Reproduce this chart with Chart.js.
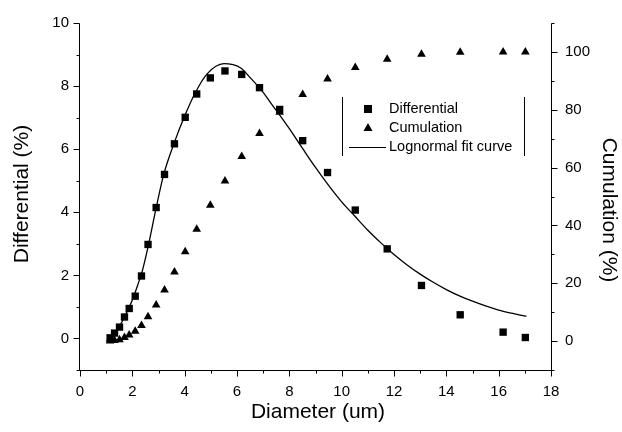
<!DOCTYPE html>
<html><head><meta charset="utf-8">
<script src="https://cdn.jsdelivr.net/npm/chart.js@4.4.1/dist/chart.umd.min.js"></script>
<style>html,body{margin:0;padding:0;background:#fff}#wrap{width:622px;height:432px;position:relative}</style>
</head><body><div id="wrap"><canvas id="c" width="622" height="432"></canvas></div>
<script>
const diameter = [1.15,1.32,1.51,1.70,1.88,2.11,2.35,2.60,2.91,3.23,3.61,4.02,4.46,4.98,5.54,6.18,6.86,7.63,8.51,9.46,10.52,11.74,13.05,14.53,16.17,17.02];
const differential = [0.02,0.17,0.36,0.68,0.95,1.34,1.98,2.98,4.15,5.20,6.17,7.01,7.75,8.26,8.48,8.37,7.95,7.26,6.27,5.26,4.07,2.84,1.68,0.75,0.20,0.03];
const cumulation = [0.0,0.2,0.5,1.2,2.1,3.4,5.4,8.4,12.5,17.7,23.9,30.9,38.7,47.0,55.4,63.8,71.8,79.1,85.3,90.6,94.6,97.5,99.2,99.9,100.0,100.0];
const fitDiameter = [1.0,1.2,1.4,1.6,1.8,2.0,2.2,2.4,2.6,2.9,3.2,3.6,4.0,4.4,4.85,5.5,6.13,6.5,7.0,7.3,7.66,8.0,8.5,9.0,9.5,10.0,10.5,11.0,11.5,12.0,12.5,13.0,13.5,14.0,14.5,15.0,15.5,16.0,16.5,17.06];
const fitDifferential = [-0.1,0.05,0.25,0.52,0.85,1.22,1.68,2.2,2.9,4.1,5.2,6.2,7.05,7.78,8.38,8.71,8.58,8.27,7.8,7.45,7.05,6.65,6.03,5.42,4.85,4.33,3.88,3.43,3.03,2.66,2.33,2.04,1.78,1.55,1.35,1.18,1.03,0.90,0.80,0.70];
const xTickLabels = [0,2,4,6,8,10,12,14,16,18];
const yLeftTickLabels = [0,2,4,6,8,10];
const yRightTickLabels = [0,20,40,60,80,100];
const legendLabels = ['Differential','Cumulation','Lognormal fit curve'];
const titles = {x:'Diameter (um)', y:'Differential (%)', y1:'Cumulation (%)'};

const FONT = '"Liberation Sans", Arial, sans-serif';

const drawPlugin = {
  id: 'drawPlugin',
  afterDraw(chart) {
    const ctx = chart.ctx;
    const {left, right, top, bottom} = chart.chartArea;
    const xs = chart.scales.x, ys = chart.scales.y, ys1 = chart.scales.y1;
    ctx.save();
    ctx.strokeStyle = '#000'; ctx.lineWidth = 1;
    const L = Math.round(left) - 0.5, R = Math.round(right) + 0.5, B = Math.round(bottom) + 0.5, T = Math.round(top) + 0.5;
    ctx.beginPath();
    ctx.moveTo(L, T); ctx.lineTo(L, B);
    ctx.moveTo(L, B); ctx.lineTo(R, B);
    ctx.moveTo(R, T); ctx.lineTo(R, B);
    xs.ticks.forEach(t => {
      const px = Math.round(xs.getPixelForValue(t.value)) + 0.5;
      const len = xTickLabels.includes(t.value) ? 6 : 3;
      ctx.moveTo(px, B); ctx.lineTo(px, B + len);
    });
    ys.ticks.forEach(t => {
      const py = Math.round(ys.getPixelForValue(t.value)) + 0.5;
      const len = yLeftTickLabels.includes(t.value) ? 6 : 3;
      ctx.moveTo(L, py); ctx.lineTo(L - len, py);
    });
    ys1.ticks.forEach(t => {
      const py = Math.round(ys1.getPixelForValue(t.value)) + 0.5;
      const len = yRightTickLabels.includes(t.value) ? 6 : 3;
      ctx.moveTo(R, py); ctx.lineTo(R + len, py);
    });
    ctx.stroke();

    // axis titles
    ctx.fillStyle = '#000';
    ctx.font = '21px ' + FONT;
    ctx.textAlign = 'center'; ctx.textBaseline = 'middle';
    ctx.fillText(titles.x, 318, 412);
    ctx.save(); ctx.translate(22, 194); ctx.rotate(-Math.PI/2); ctx.fillText(titles.y, 0, 0); ctx.restore();
    ctx.save(); ctx.translate(609, 210); ctx.rotate(Math.PI/2); ctx.fillText(titles.y1, 0, 0); ctx.restore();

    // legend
    ctx.beginPath();
    ctx.moveTo(342.5, 97); ctx.lineTo(342.5, 156);
    ctx.moveTo(524.5, 97); ctx.lineTo(524.5, 156);
    ctx.stroke();
    ctx.fillRect(364, 105, 8, 8);
    ctx.beginPath(); ctx.moveTo(368, 123); ctx.lineTo(372.5, 131); ctx.lineTo(363.5, 131); ctx.closePath(); ctx.fill();
    ctx.beginPath(); ctx.lineWidth = 1.2; ctx.moveTo(349, 147.5); ctx.lineTo(386, 147.5); ctx.stroke();
    ctx.font = '14.5px ' + FONT;
    ctx.textAlign = 'left';
    ctx.fillText(legendLabels[0], 389, 109);
    ctx.fillText(legendLabels[1], 389, 128);
    ctx.fillText(legendLabels[2], 389, 147);
    ctx.restore();
  }
};

new Chart(document.getElementById('c'), {
  type: 'scatter',
  data: {
    datasets: [
      { label: legendLabels[2], type: 'line', data: fitDiameter.map((x,i)=>({x, y: fitDifferential[i]})),
        yAxisID: 'y', borderColor: '#000', borderWidth: 1.3, pointRadius: 0, fill: false,
        cubicInterpolationMode: 'monotone', showLine: true, order: 3 },
      { label: legendLabels[1], data: diameter.map((x,i)=>({x, y: cumulation[i]})), yAxisID: 'y1',
        pointStyle: 'triangle', pointRadius: 5, backgroundColor: '#000', borderColor: '#000', borderWidth: 0, order: 2 },
      { label: legendLabels[0], data: diameter.map((x,i)=>({x, y: differential[i]})), yAxisID: 'y',
        pointStyle: 'rect', pointRadius: 5.2, backgroundColor: '#000', borderColor: '#000', borderWidth: 0, order: 1 }
    ]
  },
  options: {
    responsive: false, animation: false, devicePixelRatio: 1,
    layout: { padding: { top: 20, left: 0, right: 0, bottom: 0 } },
    plugins: { legend: { display: false }, tooltip: { enabled: false } },
    scales: {
      x: { type: 'linear', position: 'bottom', min: 0, max: 18,
        afterFit: s => { s.height = 62; },
        grid: { display: false, drawTicks: false, tickLength: 0 }, border: { display: false },
        ticks: { stepSize: 1, autoSkip: false, maxRotation: 0, padding: 13, color: '#000', font: { size: 15, family: FONT },
          callback: v => xTickLabels.includes(v) ? String(v) : '' } },
      y: { type: 'linear', position: 'left', min: -1, max: 10,
        afterFit: s => { s.width = 80; },
        grid: { display: false, drawTicks: false, tickLength: 0 }, border: { display: false },
        ticks: { stepSize: 1, autoSkip: false, padding: 11, color: '#000', font: { size: 15, family: FONT },
          callback: v => yLeftTickLabels.includes(v) ? String(v) : '' } },
      y1: { type: 'linear', position: 'right', min: -10, max: 110,
        afterFit: s => { s.width = 71; },
        grid: { display: false, drawTicks: false, tickLength: 0 }, border: { display: false },
        ticks: { stepSize: 10, autoSkip: false, padding: 14, color: '#000', font: { size: 15, family: FONT },
          callback: v => yRightTickLabels.includes(v) ? String(v) : '' } }
    }
  },
  plugins: [drawPlugin]
});
</script></body></html>
